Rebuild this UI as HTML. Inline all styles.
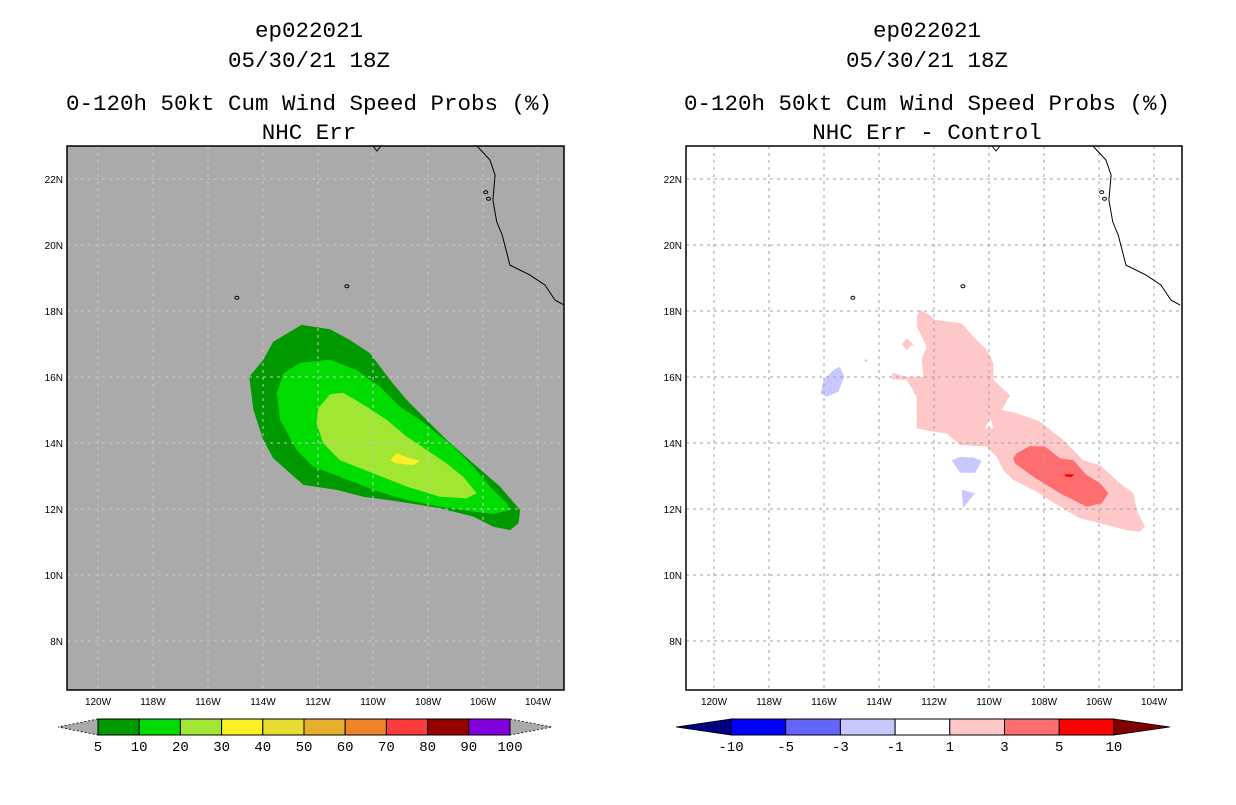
<!DOCTYPE html>
<html><head><meta charset="utf-8"><style>
body{margin:0;background:#fff;width:1236px;height:800px;overflow:hidden}
svg text{font-family:"Liberation Sans",sans-serif}
svg text.ttl{font-family:"Liberation Mono",monospace}
</style></head><body>
<svg id="s" width="1236" height="800" xmlns="http://www.w3.org/2000/svg"></svg>
<script>
const latTicks=[22,20,18,16,14,12,10,8];
const lonTicks=[120,118,116,114,112,110,108,106,104];
const leftBarLabels=["5","10","20","30","40","50","60","70","80","90","100"];
const leftBarColors=["#009900","#00dc00","#a0e632","#faf028","#e6dc32","#e6af2d","#f08228","#fa3c3c","#960000","#8200dc"];
const rightBarLabels=["-10","-5","-3","-1","1","3","5","10"];
const rightBarColors=["#0000ff","#6464ff","#c8c8ff","#ffffff","#ffc8c8","#ff6e6e","#ff0000"];
const c5=[[-112.6,17.58],[-111.56,17.45],[-110.84,17.12],[-110.11,16.72],[-109.38,15.91],[-108.77,15.3],[-108.05,14.7],[-107.32,14.09],[-106.35,13.38],[-105.38,12.68],[-104.65,11.97],[-104.71,11.57],[-105.02,11.36],[-105.62,11.46],[-106.35,11.77],[-107.56,12.02],[-109.02,12.22],[-110.35,12.37],[-111.32,12.58],[-112.53,12.73],[-113.63,13.54],[-113.99,14.09],[-114.35,15.0],[-114.5,16.01],[-113.99,16.52],[-113.63,17.07]];
const c10=[[-112.65,16.43],[-111.56,16.52],[-110.59,16.21],[-109.75,15.71],[-109.02,15.1],[-108.29,14.7],[-107.68,14.29],[-107.08,13.89],[-106.35,13.28],[-105.75,12.68],[-105.14,12.17],[-105.02,11.97],[-105.62,11.85],[-106.35,11.92],[-107.56,12.07],[-108.77,12.27],[-109.99,12.58],[-111.2,12.98],[-112.17,13.28],[-112.78,13.79],[-113.38,14.7],[-113.5,15.51],[-113.26,16.11]];
const c20=[[-111.56,15.48],[-111.08,15.52],[-110.23,15.1],[-109.5,14.7],[-108.77,14.19],[-108.05,13.79],[-107.32,13.38],[-106.72,12.98],[-106.23,12.48],[-106.6,12.32],[-107.56,12.37],[-108.77,12.68],[-109.99,13.08],[-111.2,13.48],[-111.81,13.99],[-112.05,14.6],[-111.99,15.05]];
const c30=[[-109.14,13.69],[-108.65,13.54],[-108.29,13.46],[-108.53,13.33],[-109.14,13.38],[-109.38,13.48]];
const d1=[[-112.51,18.03],[-112.15,17.88],[-111.96,17.73],[-110.99,17.63],[-110.57,17.22],[-110.08,16.82],[-109.84,16.42],[-109.84,15.91],[-109.24,15.45],[-109.54,15.0],[-108.99,14.9],[-108.15,14.65],[-107.3,14.09],[-106.57,13.48],[-105.96,13.33],[-105.24,12.78],[-104.75,12.48],[-104.63,11.97],[-104.33,11.46],[-104.51,11.31],[-104.99,11.36],[-105.96,11.57],[-106.69,11.72],[-107.42,12.07],[-108.39,12.58],[-109.12,12.88],[-109.48,13.18],[-109.72,13.58],[-110.08,13.89],[-111.05,13.94],[-111.54,14.29],[-112.03,14.34],[-112.63,14.45],[-112.63,15.4],[-112.99,15.91],[-113.54,15.93],[-113.5,16.13],[-112.99,16.01],[-112.39,16.01],[-112.45,16.52],[-112.27,16.92],[-112.63,17.52],[-112.61,17.88]];
const d1hole=[[-109.96,14.75],[-109.84,14.45],[-110.15,14.45]];
const d1b=[[-112.99,17.17],[-112.75,16.99],[-112.99,16.82],[-113.17,16.99]];
const d3=[[-108.99,13.69],[-108.51,13.91],[-107.96,13.89],[-107.42,13.54],[-106.93,13.48],[-106.45,13.03],[-105.96,12.78],[-105.66,12.48],[-105.9,12.17],[-106.45,12.07],[-107.42,12.48],[-108.39,12.98],[-109.05,13.38],[-109.12,13.54]];
const d5=[[-107.24,13.05],[-106.9,13.05],[-107.0,12.96],[-107.24,12.99]];
const n1a=[[-116.02,15.91],[-115.66,16.21],[-115.42,16.31],[-115.26,16.01],[-115.48,15.55],[-115.9,15.4],[-116.12,15.5]];
const n1b=[[-111.36,13.48],[-111.05,13.58],[-110.57,13.56],[-110.27,13.46],[-110.51,13.1],[-111.05,13.1]];
const n1c=[[-110.99,12.58],[-110.51,12.48],[-110.95,12.02]];
const n1d=[[-114.55,16.52],[-114.4,16.52],[-114.48,16.45]];
const coast=[[-106.22,23.0],[-105.75,22.58],[-105.56,22.12],[-105.64,21.36],[-105.5,20.7],[-105.3,20.3],[-105.02,19.39],[-104.29,19.09],[-103.75,18.79],[-103.38,18.33],[-103.05,18.18]];
const islands=[[-110.95,18.75],[-114.95,18.4],[-105.9,21.6],[-105.8,21.4]];

const NS="http://www.w3.org/2000/svg";
const svg=document.getElementById('s');
function el(t,a,p){const e=document.createElementNS(NS,t);for(const k in a)e.setAttribute(k,a[k]);(p||svg).appendChild(e);return e;}
function txt(x,y,s,size,anchor,p){const e=el('text',{x:x,y:y,'font-size':size,'text-anchor':anchor||'middle',fill:'#000'},p);e.textContent=s;return e;}
const PX=27.5,PY=33;
function panel(lon0){
  const X=lon=>lon0+(lon+120)*PX, Y=lat=>179+(22-lat)*PY;
  return {X,Y};
}
function poly(P,pts,fill,name,parent){
  const e=el('polygon',{points:pts.map(p=>P.X(p[0]).toFixed(1)+','+P.Y(p[1]).toFixed(1)).join(' '),fill:fill},parent);
  
  
  return e;
}
function drawPanel(px0,px1,lon0,bg,gridCol,titleX,titles,fills,name){
  const g=el('g',{});
  
  
  const P=panel(lon0);
  titles.forEach((t,i)=>{const e=txt(titleX,[37,67,110,139][i],t,22.5,'middle',g);e.setAttribute('class','ttl');});
  const bgR=el('rect',{x:px0,y:146,width:px1-px0,height:544,fill:bg},g);
  
  
  fills(P,g);
  latTicks.forEach(l=>{el('line',{x1:px0,x2:px1,y1:P.Y(l),y2:P.Y(l),stroke:gridCol,'stroke-dasharray':'3,4','stroke-width':1},g);
    const t=txt(px0-4,P.Y(l)+4,l+'N',10,'end',g);});
  lonTicks.forEach(l=>{el('line',{x1:P.X(-l),x2:P.X(-l),y1:146,y2:690,stroke:gridCol,'stroke-dasharray':'3,4','stroke-width':1},g);
    const t=txt(P.X(-l),705,l+'W',10,'middle',g);});
  const cl=el('polyline',{points:coast.map(p=>P.X(p[0])+','+P.Y(p[1])).join(' '),fill:'none',stroke:'#000','stroke-width':1},g);
  
  
  islands.forEach(p=>el('ellipse',{cx:P.X(p[0]),cy:P.Y(p[1]),rx:2,ry:1.5,fill:'none',stroke:'#000','stroke-width':1},g));
  el('polyline',{points:`${px0+306},146 ${px0+310},151 ${px0+314},146`,fill:'none',stroke:'#000'},g);
  const fr=el('rect',{x:px0,y:146,width:px1-px0,height:544,fill:'none',stroke:'#000','stroke-width':1.5},g);
  
  
}
drawPanel(67,564,98,'#aaaaaa','#c8c8c8',309,['ep022021','05/30/21 18Z','0-120h 50kt Cum Wind Speed Probs (%)','NHC Err'],(P,g)=>{
  poly(P,c5,leftBarColors[0],'contour-5pct',g);poly(P,c10,leftBarColors[1],'contour-10pct',g);
  poly(P,c20,leftBarColors[2],'contour-20pct',g);poly(P,c30,leftBarColors[3],'contour-30pct',g);
},'left-panel');
drawPanel(686,1182,714,'#ffffff','#a0a0a0',927,['ep022021','05/30/21 18Z','0-120h 50kt Cum Wind Speed Probs (%)','NHC Err - Control'],(P,g)=>{
  poly(P,d1,rightBarColors[4],'diff-contour-plus1',g);poly(P,d1hole,'#fff','diff-hole',g);poly(P,d1b,rightBarColors[4],'diff-contour-plus1-small',g);
  poly(P,d3,rightBarColors[5],'diff-contour-plus3',g);poly(P,d5,rightBarColors[6],'diff-contour-plus5',g);
  [n1a,n1b,n1c,n1d].forEach(a=>poly(P,a,rightBarColors[2],'diff-contour-minus1',g));
},'right-panel');
function colorbar(x0,w,colors,labels,tipL,tipR,name){
  const g=el('g',{});
  
  
  const y=719,h=16,x1=x0+w*colors.length;
  el('polygon',{points:`${x0},${y} ${tipL.x},${y+h/2} ${x0},${y+h}`,fill:tipL.c,stroke:'#000','stroke-dasharray':tipL.d||'none','stroke-width':0.8},g);
  el('polygon',{points:`${x1},${y} ${tipR.x},${y+h/2} ${x1},${y+h}`,fill:tipR.c,stroke:'#000','stroke-dasharray':tipR.d||'none','stroke-width':0.8},g);
  colors.forEach((c,i)=>{const r=el('rect',{x:x0+i*w,y:y,width:w,height:h,fill:c,stroke:'#000','stroke-width':1},g);});
  labels.forEach((l,i)=>{const t=txt(x0+i*w,751,l,14,'middle',g);t.setAttribute('class','ttl');});
}
colorbar(98,41.2,leftBarColors,leftBarLabels,{x:58,c:'#aaaaaa',d:'2,2'},{x:552,c:'#aaaaaa',d:'2,2'},'left-colorbar');
colorbar(731,54.7,rightBarColors,rightBarLabels,{x:676,c:'#000080'},{x:1170,c:'#800000'},'right-colorbar');
</script>
</body></html>
